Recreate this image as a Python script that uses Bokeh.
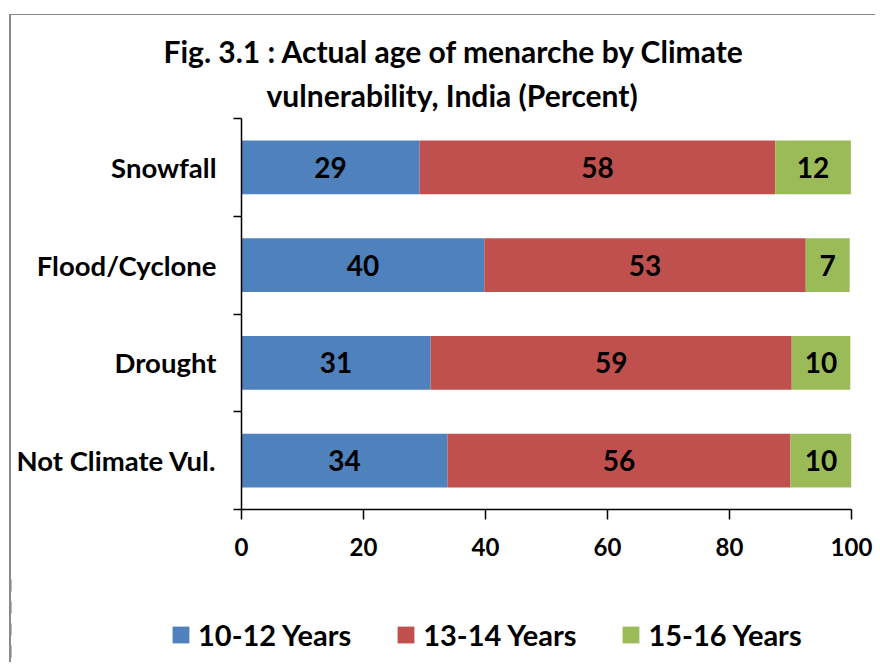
from bokeh.plotting import figure
from bokeh.models import (ColumnDataSource, Range1d, FixedTicker, Legend, LegendItem,
                          Title)
from bokeh.core.properties import value
from bokeh.embed import file_html
from bokeh.resources import INLINE
import numpy as np

# ---- data ----
categories = ["Snowfall", "Flood/Cyclone", "Drought", "Not Climate Vul."]
series = ["10-12 Years", "13-14 Years", "15-16 Years"]
age_10_12 = [29.2, 39.8, 31.0, 33.8]
age_13_14 = [58.3, 52.7, 59.2, 56.2]
age_15_16 = [12.4, 7.2, 9.6, 10.0]
x_ticks = [0, 20, 40, 60, 80, 100]
title_lines = ["Fig. 3.1 : Actual age of menarche by Climate",
               "vulnerability, India (Percent)"]
colors = ["#4F81BD", "#C0504D", "#9BBB59"]

FONT = "Lato"
BORDER = "#8a8a8a"
W = 866

n = len(categories)
ypos = [n - i - 0.5 for i in range(n)]

src = ColumnDataSource(dict(y=ypos, s0=age_10_12, s1=age_13_14, s2=age_15_16))

p = figure(width=W, height=560, x_range=Range1d(0, 100), y_range=Range1d(0, n),
           output_backend="svg", toolbar_location=None,
           min_border_left=230, min_border_right=26, min_border_top=103,
           min_border_bottom=66)
p.styles = {"margin-left": "9px", "margin-top": "14px",
            "border-left": f"2px solid {BORDER}", "border-top": f"1px solid {BORDER}"}
p.outline_line_color = None
p.xgrid.visible = False
p.ygrid.visible = False
p.background_fill_color = "white"
p.border_fill_color = "white"

rends = p.hbar_stack(["s0", "s1", "s2"], y="y", height=0.55, color=colors,
                     line_color=None, source=src)

# data labels
vals = np.array([age_10_12, age_13_14, age_15_16])
cum = np.cumsum(vals, axis=0)
lx, ly, lt = [], [], []
for k in range(3):
    for i in range(n):
        lx.append(cum[k, i] - vals[k, i] / 2)
        ly.append(ypos[i])
        lt.append(str(int(round(vals[k, i]))))
lsrc = ColumnDataSource(dict(x=lx, y=ly, t=lt))
p.text(x="x", y="y", text="t", source=lsrc, text_align="center",
       text_baseline="middle", text_font=value(FONT), text_font_style="bold",
       text_font_size="28px", text_color="black")

# x axis
xa = p.xaxis[0]
xa.ticker = FixedTicker(ticks=x_ticks)
xa.axis_line_color = "black"
xa.axis_line_width = 1.5
xa.major_tick_line_color = "black"
xa.major_tick_line_width = 1.5
xa.major_tick_out = 10
xa.major_tick_in = 0
xa.minor_tick_line_color = None
xa.major_label_text_font = FONT
xa.major_label_text_font_style = "bold"
xa.major_label_text_font_size = "24px"
xa.major_label_text_color = "black"
xa.major_label_standoff = 18

# y axis
ya = p.yaxis[0]
ya.ticker = FixedTicker(ticks=ypos, minor_ticks=list(range(n + 1)))
ya.major_label_overrides = {yv: c for yv, c in zip(ypos, categories)}
ya.axis_line_color = "black"
ya.axis_line_width = 1.5
ya.major_tick_line_color = None
ya.major_tick_out = 0
ya.major_tick_in = 0
ya.minor_tick_line_color = "black"
ya.minor_tick_line_width = 1.5
ya.minor_tick_out = 8
ya.minor_tick_in = 0
ya.major_label_text_font = FONT
ya.major_label_text_font_style = "bold"
ya.major_label_text_font_size = "27.5px"
ya.major_label_text_color = "black"
ya.major_label_standoff = 17

# title (two centred lines in the panel above the frame; first added = nearest)
for txt, off, so in zip(reversed(title_lines), [25, -78], [12, 0]):
    p.add_layout(Title(text=txt, align="left", offset=off, text_font=FONT,
                       text_font_style="bold", text_font_size="30px",
                       text_color="black", standoff=so), "above")

# ---- legend strip (separate root so the legend is not clipped by a frame) ----
pl = figure(width=W, height=88, x_range=Range1d(1000, 1100), y_range=Range1d(0, n),
            output_backend="svg", toolbar_location=None, x_axis_type=None,
            y_axis_type=None, min_border=0)
pl.styles = {"margin-left": "9px", "border-left": f"2px solid {BORDER}"}
pl.outline_line_color = None
pl.background_fill_color = "white"
pl.border_fill_color = "white"
lrends = pl.hbar_stack(["s0", "s1", "s2"], y="y", height=0.55, color=colors,
                       line_color=None, source=src)
legend = Legend(items=[LegendItem(label=s, renderers=[r]) for s, r in zip(series, lrends)],
                orientation="horizontal", location=(159, 10.5),
                glyph_width=21, glyph_height=21, label_standoff=7, spacing=44,
                padding=0, margin=0, border_line_color=None,
                background_fill_alpha=0, label_text_font=FONT,
                label_text_font_style="bold", label_text_font_size="29px",
                label_text_color="black", label_height=35)
pl.add_layout(legend, "center")

open("out.html", "w").write(file_html([p, pl], INLINE))
